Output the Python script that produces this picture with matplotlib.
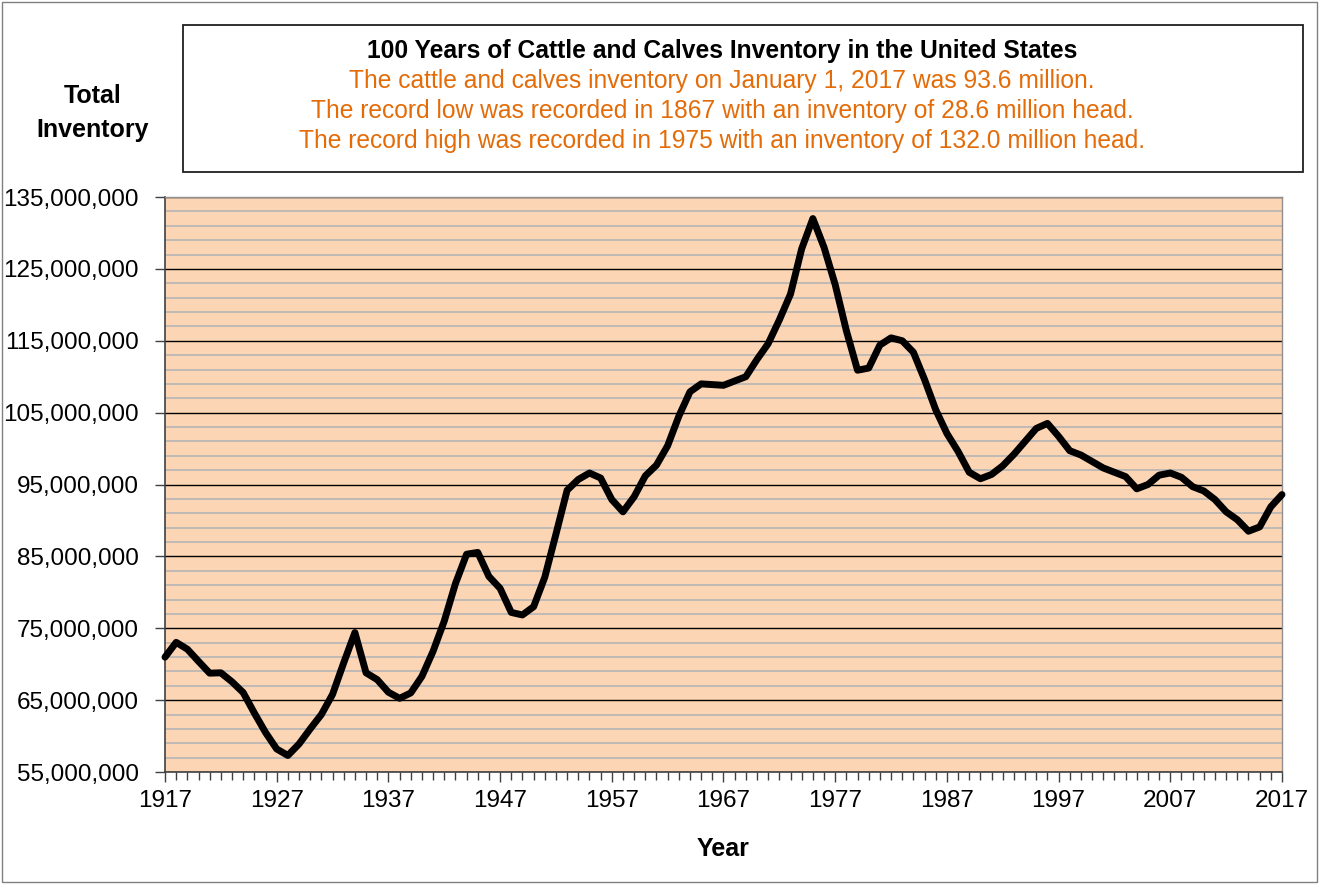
import numpy as np
import matplotlib.pyplot as plt
from matplotlib.patches import Rectangle
from matplotlib.ticker import FuncFormatter

plt.rcParams['font.family'] = ['Liberation Sans', 'DejaVu Sans']

years = list(range(1917, 2018))
inventory_m = [
    70.98, 73.04, 72.09, 70.40, 68.75, 68.80, 67.55, 66.05, 63.20, 60.50,
    58.20, 57.30, 58.90, 61.00, 63.00, 65.80, 70.20, 74.40, 68.80, 67.85,
    66.10, 65.25, 66.00, 68.30, 71.80, 76.00, 81.20, 85.30, 85.55, 82.20,
    80.55, 77.20, 76.85, 78.00, 82.10, 88.10, 94.20, 95.70, 96.60, 95.90,
    92.90, 91.20, 93.30, 96.20, 97.70, 100.40, 104.50, 107.90, 109.00, 108.90,
    108.80, 109.40, 110.00, 112.40, 114.60, 117.90, 121.50, 127.80, 132.00, 128.00,
    122.80, 116.40, 110.90, 111.20, 114.40, 115.40, 115.00, 113.40, 109.60, 105.40,
    102.10, 99.60, 96.70, 95.80, 96.40, 97.60, 99.20, 101.00, 102.80, 103.50,
    101.70, 99.70, 99.10, 98.20, 97.30, 96.70, 96.10, 94.40, 95.00, 96.30,
    96.60, 96.00, 94.70, 94.10, 92.90, 91.20, 90.10, 88.50, 89.10, 91.90,
    93.60,
]
inventory = np.array(inventory_m) * 1e6

title = "100 Years of Cattle and Calves Inventory in the United States"
notes = [
    "The cattle and calves inventory on January 1, 2017 was 93.6 million.",
    "The record low was recorded in 1867 with an inventory of 28.6 million head.",
    "The record high was recorded in 1975 with an inventory of 132.0 million head.",
]

W, H = 1320, 884
fig = plt.figure(figsize=(W / 100, H / 100), dpi=100)
ax = fig.add_axes([165 / W, 1 - 772 / H, (1282 - 165) / W, (772 - 197) / H])

ax.set_facecolor('#FCD5B4')
ax.plot(years, inventory, color='black', lw=5.0, solid_joinstyle='round',
        solid_capstyle='round', zorder=3, clip_on=False)

ax.set_xlim(1917, 2017)
ax.set_ylim(55e6, 135e6)
ax.set_xticks(range(1917, 2018, 10))
ax.set_xticks(range(1917, 2018), minor=True)
ax.set_yticks(np.arange(55e6, 135e6 + 1, 10e6))
ax.set_yticks(np.arange(55e6, 135e6 + 1, 2e6), minor=True)
ax.yaxis.set_major_formatter(FuncFormatter(lambda v, p: f"{v:,.0f}"))

ax.grid(which='major', axis='y', color='black', lw=1.0, zorder=1)
ax.grid(which='minor', axis='y', color='#B4B4B4', lw=1.2, zorder=0)
ax.tick_params(axis='both', which='major', labelsize=17.5, direction='out',
               length=7, width=1, color='#404040')
ax.tick_params(axis='x', which='major', pad=6)
ax.tick_params(axis='y', which='major', pad=12)
ax.tick_params(axis='x', which='minor', direction='out', length=6, width=1,
               color='#404040')
ax.tick_params(axis='y', which='minor', length=0)
for side in ['left', 'bottom']:
    ax.spines[side].set_color('#404040')
    ax.spines[side].set_linewidth(1.2)
for side in ['top', 'right']:
    ax.spines[side].set_color('#909090')
    ax.spines[side].set_linewidth(1.0)

ax.set_xlabel('Year', fontsize=18, fontweight='bold', labelpad=18)

fig.text(93 / W, 1 - 113 / H, 'Total\nInventory', ha='center', va='center',
         fontsize=18, fontweight='bold', linespacing=1.5)

fig.patches.append(Rectangle((183 / W, 1 - 172 / H), (1303 - 183) / W, (172 - 25) / H,
                             transform=fig.transFigure, fill=False,
                             edgecolor='#202020', lw=1.3))
fig.text(722 / W, 1 - 51 / H, title, ha='center', va='center', fontsize=17.7,
         fontweight='bold')
for i, line in enumerate(notes):
    fig.text(722 / W, 1 - (81 + 30 * i) / H, line, ha='center', va='center',
             fontsize=17.7, color='#E36C09')

fig.patches.append(Rectangle((2 / W, 2 / H), (W - 5) / W, (H - 4) / H,
                             transform=fig.transFigure, fill=False,
                             edgecolor='#808080', lw=1.0))

fig.savefig('out.png', dpi=100)
